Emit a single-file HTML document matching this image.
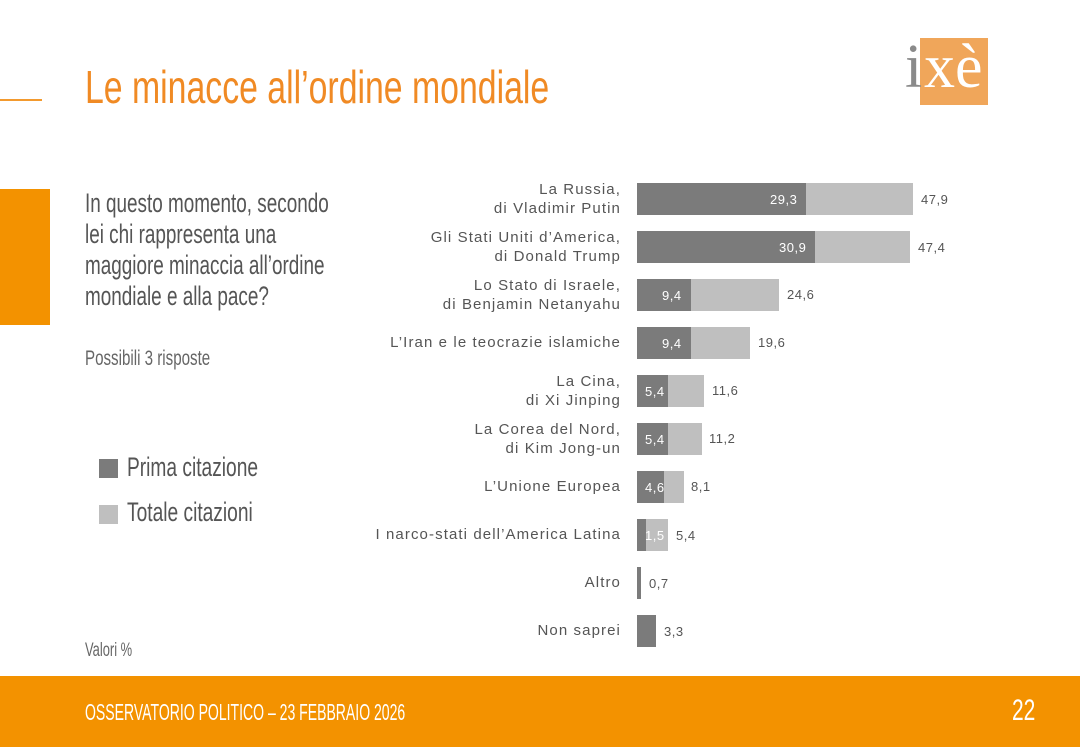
<!DOCTYPE html>
<html><head><meta charset="utf-8"><style>
body{margin:0;width:1080px;height:747px;position:relative;background:#fff;overflow:hidden;font-family:"Liberation Sans",sans-serif}
.a{position:absolute;white-space:nowrap}
.cond{transform-origin:0 0;transform:scaleX(0.72)}
.lab{position:absolute;right:459px;text-align:right;font-size:15px;color:#555;line-height:19px;letter-spacing:1.1px}
.bar{position:absolute;height:32px}
.d{background:#7b7b7b}.l{background:#bfbfbf}
.v{position:absolute;font-size:13px;color:#555;letter-spacing:0.5px}
.vi{position:absolute;font-size:13px;color:#fff;letter-spacing:0.5px}
</style></head><body>
<div class="a" style="left:0;top:99px;width:42px;height:2px;background:#f39a2e"></div>
<div class="a" style="left:85px;top:60px;font-size:46px;color:#f08a24;transform-origin:0 0;transform:scaleX(0.735)">Le minacce all’ordine mondiale</div>
<div class="a" style="left:920px;top:38px;width:68px;height:67px;background:#f0a65a"></div>
<div class="a" style="left:905px;top:32px;font-family:'Liberation Serif',serif;font-size:62px;color:#8a8a8a">i</div>
<div class="a" style="left:924px;top:32px;font-family:'Liberation Serif',serif;font-size:62px;color:#fff">xè</div>
<div class="a" style="left:0;top:189px;width:50px;height:136px;background:#f39200"></div>
<div class="a" style="left:85px;top:188px;font-size:27px;line-height:31px;color:#555;transform-origin:0 0;transform:scaleX(0.70)">In questo momento, secondo<br>lei chi rappresenta una<br>maggiore minaccia all’ordine<br>mondiale e alla pace?</div>
<div class="a cond" style="left:85px;top:347px;font-size:21px;color:#666">Possibili 3 risposte</div>
<div class="a" style="left:99px;top:459px;width:19px;height:19px;background:#7b7b7b"></div>
<div class="a" style="left:127px;top:452px;font-size:27px;color:#555;transform-origin:0 0;transform:scaleX(0.71)">Prima citazione</div>
<div class="a" style="left:99px;top:505px;width:19px;height:19px;background:#bfbfbf"></div>
<div class="a" style="left:127px;top:497px;font-size:27px;color:#555;transform-origin:0 0;transform:scaleX(0.71)">Totale citazioni</div>
<div class="a" style="left:85px;top:640px;font-size:19px;color:#666;transform-origin:0 0;transform:scaleX(0.68)">Valori %</div>

<div class="lab" style="top:180px">La Russia,<br>di Vladimir Putin</div>
<div class="bar l" style="left:637px;top:183px;width:276px"></div><div class="bar d" style="left:637px;top:183px;width:169px"></div>
<div class="vi" style="left:770px;top:192px">29,3</div><div class="v" style="left:921px;top:192px">47,9</div>

<div class="lab" style="top:228px">Gli Stati Uniti d’America,<br>di Donald Trump</div>
<div class="bar l" style="left:637px;top:231px;width:273px"></div><div class="bar d" style="left:637px;top:231px;width:178px"></div>
<div class="vi" style="left:779px;top:240px">30,9</div><div class="v" style="left:918px;top:240px">47,4</div>

<div class="lab" style="top:276px">Lo Stato di Israele,<br>di Benjamin Netanyahu</div>
<div class="bar l" style="left:637px;top:279px;width:142px"></div><div class="bar d" style="left:637px;top:279px;width:54px"></div>
<div class="vi" style="left:662px;top:288px">9,4</div><div class="v" style="left:787px;top:287px">24,6</div>

<div class="lab" style="top:333px">L’Iran e le teocrazie islamiche</div>
<div class="bar l" style="left:637px;top:327px;width:113px"></div><div class="bar d" style="left:637px;top:327px;width:54px"></div>
<div class="vi" style="left:662px;top:336px">9,4</div><div class="v" style="left:758px;top:335px">19,6</div>

<div class="lab" style="top:372px">La Cina,<br>di Xi Jinping</div>
<div class="bar l" style="left:637px;top:375px;width:67px"></div><div class="bar d" style="left:637px;top:375px;width:31px"></div>
<div class="vi" style="left:645px;top:384px">5,4</div><div class="v" style="left:712px;top:383px">11,6</div>

<div class="lab" style="top:420px">La Corea del Nord,<br>di Kim Jong-un</div>
<div class="bar l" style="left:637px;top:423px;width:65px"></div><div class="bar d" style="left:637px;top:423px;width:31px"></div>
<div class="vi" style="left:645px;top:432px">5,4</div><div class="v" style="left:709px;top:431px">11,2</div>

<div class="lab" style="top:477px">L’Unione Europea</div>
<div class="bar l" style="left:637px;top:471px;width:47px"></div><div class="bar d" style="left:637px;top:471px;width:27px"></div>
<div class="vi" style="left:645px;top:480px">4,6</div><div class="v" style="left:691px;top:479px">8,1</div>

<div class="lab" style="top:525px">I narco-stati dell’America Latina</div>
<div class="bar l" style="left:637px;top:519px;width:31px"></div><div class="bar d" style="left:637px;top:519px;width:9px"></div>
<div class="vi" style="left:645px;top:528px">1,5</div><div class="v" style="left:676px;top:528px">5,4</div>

<div class="lab" style="top:573px">Altro</div>
<div class="bar d" style="left:637px;top:567px;width:4px"></div>
<div class="v" style="left:649px;top:576px">0,7</div>

<div class="lab" style="top:621px">Non saprei</div>
<div class="bar d" style="left:637px;top:615px;width:19px"></div>
<div class="v" style="left:664px;top:624px">3,3</div>

<div class="a" style="left:0;top:676px;width:1080px;height:71px;background:#f39200"></div>
<div class="a" style="left:85px;top:699px;font-size:23px;color:#fff;transform-origin:0 0;transform:scaleX(0.61)">OSSERVATORIO POLITICO – 23 FEBBRAIO 2026</div>
<div class="a" style="left:1012px;top:694px;font-size:30px;color:#fff;transform-origin:0 0;transform:scaleX(0.7)">22</div>
</body></html>
